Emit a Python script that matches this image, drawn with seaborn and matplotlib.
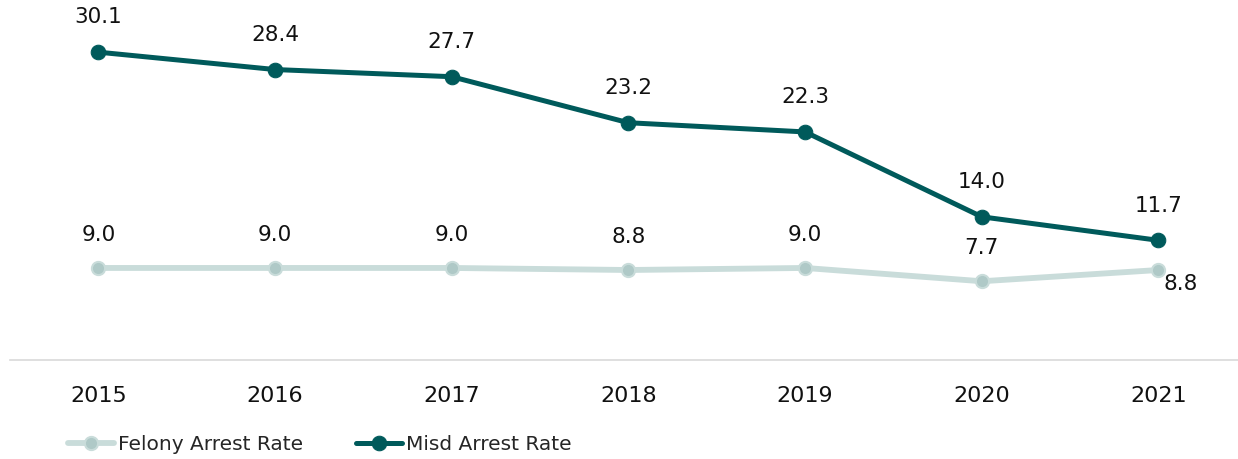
import matplotlib
matplotlib.use("Agg")
import matplotlib.pyplot as plt
import seaborn as sns
import pandas as pd

years = ["2015", "2016", "2017", "2018", "2019", "2020", "2021"]
felony = [9.0, 9.0, 9.0, 8.8, 9.0, 7.7, 8.8]
misd = [30.1, 28.4, 27.7, 23.2, 22.3, 14.0, 11.7]
series_names = ["Felony Arrest Rate", "Misd Arrest Rate"]

sns.set_theme(style="white")
plt.rcParams["font.family"] = ["DejaVu Sans"]

DARK = "#005A5B"
LIGHT = "#C9DCDA"
LIGHT_MK = "#AFC9C7"

fig = plt.figure(figsize=(12.38, 4.59), dpi=100)
ax = fig.add_axes([10 / 1238, 99 / 459, 1 - 10 / 1238, 1 - 99 / 459])

df = pd.DataFrame({"Year": years * 2,
                   "Rate": felony + misd,
                   "Series": [series_names[0]] * len(years) + [series_names[1]] * len(years)})
df["x"] = list(range(len(years))) * 2

sns.lineplot(data=df[df.Series == series_names[0]], x="x", y="Rate", ax=ax,
             color=LIGHT, lw=4.2, marker="o", markersize=9.5,
             markerfacecolor=LIGHT_MK, markeredgecolor=LIGHT, markeredgewidth=1.5,
             label=series_names[0])
sns.lineplot(data=df[df.Series == series_names[1]], x="x", y="Rate", ax=ax,
             color=DARK, lw=3.6, marker="o", markersize=10.5,
             markerfacecolor=DARK, markeredgecolor=DARK,
             label=series_names[1])

for i, v in enumerate(misd):
    ax.annotate(f"{v:.1f}", (i, v), xytext=(0, 25), textcoords="offset points",
                ha="center", va="center", fontsize=15.5, color="#111111")
for i, v in enumerate(felony):
    if i == len(felony) - 1:
        ax.annotate(f"{v:.1f}", (i, v), xytext=(16, -10), textcoords="offset points",
                    ha="center", va="center", fontsize=15.5, color="#111111")
    else:
        ax.annotate(f"{v:.1f}", (i, v), xytext=(0, 24), textcoords="offset points",
                    ha="center", va="center", fontsize=15.5, color="#111111")

ax.set_xlim(-0.5, 6.45)
ax.set_ylim(0, 35.2)
ax.set_xticks(range(len(years)))
ax.set_xticklabels(years, fontsize=16, color="#111111")
ax.tick_params(axis="x", length=0, pad=19)
ax.set_yticks([])
ax.set_xlabel("")
ax.set_ylabel("")
for s in ["top", "right", "left"]:
    ax.spines[s].set_visible(False)
ax.spines["bottom"].set_color("#D9D9D9")
ax.spines["bottom"].set_linewidth(1.2)

ax.get_legend().remove()
h, l = ax.get_legend_handles_labels()
fig.legend(h, l, loc="center left", bbox_to_anchor=(68 / 1238, 1 - 445 / 459), ncol=2,
           frameon=False, fontsize=14.5, handlelength=2.3, handletextpad=0.2,
           columnspacing=2.6, borderaxespad=0, borderpad=0)

fig.savefig("out.png", dpi=100)
